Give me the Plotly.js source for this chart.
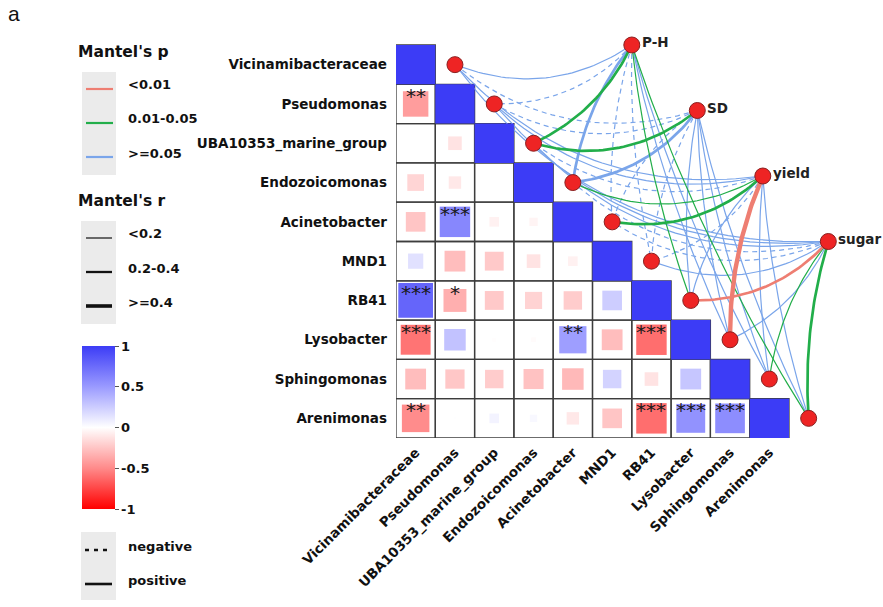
<!DOCTYPE html>
<html><head><meta charset="utf-8">
<script src="https://cdn.plot.ly/plotly-3.0.1.min.js"></script>
<style>body{margin:0;background:#fff}</style>
</head><body><div id="chart" style="width:883px;height:607px"></div>
<script>
// ---------------- DATA ----------------
const species = ['Vicinamibacteraceae','Pseudomonas','UBA10353_marine_group','Endozoicomonas','Acinetobacter','MND1','RB41','Lysobacter','Sphingomonas','Arenimonas'];
// lower-triangle Pearson r, row i holds columns 0..i-1
const corrRows = [
  [],
  [-0.42],
  [0.002, -0.12],
  [-0.18, -0.10, 0.002],
  [-0.25, 0.60, -0.06, -0.045],
  [0.15, -0.28, -0.23, -0.12, -0.06],
  [0.78, -0.34, -0.23, -0.19, -0.22, 0.25],
  [-0.58, 0.30, -0.01, -0.015, 0.48, -0.28, -0.60],
  [-0.28, -0.24, -0.22, -0.26, -0.30, 0.22, -0.12, 0.28],
  [-0.49, 0.003, 0.06, 0.035, -0.10, -0.25, -0.60, 0.54, 0.57]
];
const sigRows = [
  [],
  ['**'],
  ['', ''],
  ['', '', ''],
  ['', '***', '', ''],
  ['', '', '', '', ''],
  ['***', '*', '', '', '', ''],
  ['***', '', '', '', '**', '', '***'],
  ['', '', '', '', '', '', '', ''],
  ['**', '', '', '', '', '', '***', '***', '***']
];
const envVars = ['P-H', 'SD', 'yield', 'sugar'];
const pLevels = ['<0.01', '0.01-0.05', '>=0.05'];
const rLevels = ['<0.2', '0.2-0.4', '>=0.4'];
// Mantel p class per env variable, in species order
const mantelP_PH    = ['>=0.05','>=0.05','0.01-0.05','>=0.05','>=0.05','>=0.05','0.01-0.05','>=0.05','>=0.05','0.01-0.05'];
const mantelP_SD    = ['>=0.05','>=0.05','0.01-0.05','>=0.05','>=0.05','>=0.05','>=0.05','>=0.05','>=0.05','>=0.05'];
const mantelP_yield = ['>=0.05','>=0.05','>=0.05','0.01-0.05','0.01-0.05','>=0.05','>=0.05','<0.01','>=0.05','>=0.05'];
const mantelP_sugar = ['>=0.05','>=0.05','>=0.05','>=0.05','>=0.05','>=0.05','<0.01','>=0.05','0.01-0.05','0.01-0.05'];
// Mantel r class
const mantelR_PH    = ['<0.2','<0.2','0.2-0.4','0.2-0.4','<0.2','<0.2','<0.2','<0.2','<0.2','<0.2'];
const mantelR_SD    = ['<0.2','<0.2','0.2-0.4','0.2-0.4','<0.2','<0.2','<0.2','<0.2','<0.2','<0.2'];
const mantelR_yield = ['<0.2','<0.2','<0.2','<0.2','0.2-0.4','<0.2','<0.2','>=0.4','<0.2','<0.2'];
const mantelR_sugar = ['<0.2','<0.2','<0.2','<0.2','<0.2','<0.2','0.2-0.4','<0.2','<0.2','0.2-0.4'];
// sign of relation
const sign_PH    = ['positive','negative','positive','positive','negative','negative','positive','positive','positive','positive'];
const sign_SD    = ['negative','negative','positive','positive','negative','negative','positive','positive','positive','positive'];
const sign_yield = ['positive','positive','negative','positive','positive','negative','positive','positive','positive','positive'];
const sign_sugar = ['positive','positive','positive','negative','negative','positive','positive','positive','positive','positive'];
const colorTicks = [-1, -0.5, 0, 0.5, 1];
const colorTickText = ['-1', '-0.5', '0', '0.5', '1'];

// ---------------- STYLE / LAYOUT ----------------
const CELL = 39.3;
const ML = 396, MT = 25, PW = 483, PH = 413;
const px2x = p => (p - ML) / PW;
const py2y = p => 1 - (p - MT) / PH;
const FONT = 'DejaVu Sans';
const pColor = {'<0.01': '#EE7E72', '0.01-0.05': '#22AE4A', '>=0.05': '#7AA5EA'};
const rWidth = {'<0.2': 1.2, '0.2-0.4': 2.7, '>=0.4': 4.4};
const colorscale = [[0, '#ff0000'], [0.25, '#ff8a8a'], [0.5, '#ffffff'], [0.75, '#9a9aff'], [1, '#3c3cf6']];

const envP = [mantelP_PH, mantelP_SD, mantelP_yield, mantelP_sugar];
const envR = [mantelR_PH, mantelR_SD, mantelR_yield, mantelR_sugar];
const envS = [sign_PH, sign_SD, sign_yield, sign_sugar];

const n = species.length;
const idx = species.map((_, i) => i);

// matrix squares
const sqX = [], sqY = [], sqC = [], sqS = [];
for (let i = 0; i < n; i++) {
  for (let j = 0; j < i; j++) {
    const r = corrRows[i][j];
    sqX.push(j); sqY.push(i); sqC.push(r); sqS.push(Math.sqrt(Math.abs(r)) * CELL);
  }
  sqX.push(i); sqY.push(i); sqC.push(1); sqS.push(CELL);
}

const traces = [];
// node positions
const spX = idx.map(i => i + 1), spY = idx.map(i => i);
const envX = envVars.map((_, k) => spX[0] + 4.5 + k * 5 / 3);
const envY = envVars.map((_, k) => spY[0] - 0.5 + k * 5 / 3);

function curve(ex, ey, sx, sy) {
  const dx = sx - ex, dy = sy - ey;
  const L = Math.hypot(dx, dy);
  const u = (dx + dy) / Math.SQRT2 * CELL;
  let px = dy / L, py = -dx / L;
  if (u > 1e-6) { px = -px; py = -py; }
  const s = Math.min(0.13, Math.max(0.03, 0.09 - 0.0004 * u));
  const cx = (ex + sx) / 2 + 2 * s * L * px, cy = (ey + sy) / 2 + 2 * s * L * py;
  const xs = [], ys = [];
  for (let t = 0; t <= 1.0001; t += 1 / 40) {
    const a = (1 - t) * (1 - t), b = 2 * t * (1 - t), c = t * t;
    xs.push(a * ex + b * cx + c * sx); ys.push(a * ey + b * cy + c * sy);
  }
  return [xs, ys];
}
// edges: draw blue first, then green, then red on top
const order = ['>=0.05', '0.01-0.05', '<0.01'];
order.forEach(pl => {
  envVars.forEach((ev, k) => {
    idx.forEach(i => {
      if (envP[k][i] !== pl) return;
      const [xs, ys] = curve(envX[k], envY[k], spX[i], spY[i]);
      traces.push({
        type: 'scatter', mode: 'lines', x: xs, y: ys, hoverinfo: 'skip', showlegend: false, cliponaxis: false,
        line: {color: pColor[pl], width: rWidth[envR[k][i]], dash: envS[k][i] === 'negative' ? '5px,4px' : 'solid'}
      });
    });
  });
});

traces.push({
  type: 'scatter', mode: 'markers', x: sqX, y: sqY, hoverinfo: 'skip', showlegend: false,
  marker: {
    symbol: 'square', size: sqS, opacity: 1, color: sqC, cmin: -1, cmax: 1, colorscale: colorscale, line: {width: 0},
    colorbar: {
      x: px2x(82), xanchor: 'left', xref: 'paper', y: py2y(427.5), yanchor: 'middle', yref: 'paper',
      len: 163, lenmode: 'pixels', thickness: 33, thicknessmode: 'pixels', xpad: 0, ypad: 0,
      outlinewidth: 0, ticks: 'outside', ticklen: 4, tickwidth: 1, tickcolor: '#555',
      tickvals: colorTicks, ticktext: colorTickText,
      tickfont: {family: FONT, size: 13, weight: 'bold', color: '#111'}
    }
  }
});
traces.push({
  type: 'scatter', mode: 'markers', x: spX.concat(envX), y: spY.concat(envY), hoverinfo: 'skip', showlegend: false, cliponaxis: false,
  marker: {symbol: 'circle', size: 16, opacity: 1, color: '#EE2424', line: {color: '#8a2020', width: 1}}
});

const shapes = [];
for (let i = 0; i < n; i++) for (let j = 0; j <= i; j++) {
  shapes.push({type: 'rect', xref: 'x', yref: 'y', x0: j - 0.5, x1: j + 0.5, y0: i - 0.5, y1: i + 0.5,
    line: {color: '#3d3d3d', width: 1.3}, layer: 'below'});
}
function pbox(x0, y0, x1, y1) {
  shapes.push({type: 'rect', xref: 'paper', yref: 'paper', x0: px2x(x0), x1: px2x(x1), y0: py2y(y1), y1: py2y(y0),
    fillcolor: '#ebebeb', line: {width: 0}, layer: 'below'});
}
function pline(x0, x1, y, color, w, dash) {
  shapes.push({type: 'line', xref: 'paper', yref: 'paper', x0: px2x(x0), x1: px2x(x1), y0: py2y(y), y1: py2y(y),
    line: {color: color, width: w, dash: dash || 'solid'}});
}
const annotations = [];
function ptext(x, y, text, size, weight, family) {
  annotations.push({xref: 'paper', yref: 'paper', x: px2x(x), y: py2y(y), text: text, showarrow: false,
    xanchor: 'left', yanchor: 'middle', font: {family: family || FONT, size: size, weight: weight || 'bold', color: '#111'}});
}
ptext(6, 14, 'a', 21, 'normal', 'Liberation Sans');
ptext(76, 52, "Mantel's p", 15.5);
pbox(82, 72, 116, 175);
pLevels.forEach((pl, k) => { pline(86, 113, 89 + k * 34, pColor[pl], 2.2); ptext(126, 85 + k * 34, pl, 13); });
ptext(76, 201, "Mantel's r", 15.5);
pbox(81, 221, 116, 324);
rLevels.forEach((rl, k) => { pline(86, 112, 238 + k * 34, '#111', [1.2, 2.3, 3.6][k]); ptext(126, 234 + k * 34, rl, 13); });
pbox(81, 532, 116, 600);
pline(85, 112, 550, '#111', 2.6, '4px,5px');
pline(85, 112, 584, '#111', 2.6);
ptext(126, 546, 'negative', 13);
ptext(126, 580, 'positive', 13);

for (let i = 0; i < n; i++) for (let j = 0; j < i; j++) {
  if (sigRows[i][j]) annotations.push({xref: 'x', yref: 'y', x: j, y: i - 0.2, text: sigRows[i][j], showarrow: false,
    font: {family: FONT, size: 20, color: '#1a1a1a'}});
}
envVars.forEach((ev, k) => annotations.push({xref: 'x', yref: 'y', x: envX[k], y: envY[k], text: ev, showarrow: false,
  xanchor: 'left', yanchor: 'middle', xshift: 8, yshift: 3, font: {family: FONT, size: 13.5, weight: 'bold', color: '#222'}}));

const layout = {
  width: 883, height: 607, paper_bgcolor: '#fff', plot_bgcolor: 'rgba(0,0,0,0)',
  margin: {l: ML, r: 883 - ML - PW, t: MT, b: 607 - MT - PH, autoexpand: false},
  xaxis: {range: [-0.5, -0.5 + PW / CELL], showgrid: false, zeroline: false, showline: false, ticks: '',
    tickvals: idx, ticktext: species, tickangle: -45, ticklabelstandoff: 3,
    tickfont: {family: FONT, size: 13.5, weight: 'bold', color: '#111'}, automargin: false, fixedrange: true},
  yaxis: {range: [9.5, 9.5 - PH / CELL], showgrid: false, zeroline: false, showline: false, ticks: '',
    tickvals: idx, ticktext: species, ticklabelstandoff: 8,
    tickfont: {family: FONT, size: 13.5, weight: 'bold', color: '#111'}, automargin: false, fixedrange: true},
  shapes: shapes, annotations: annotations, showlegend: false
};
Plotly.newPlot('chart', traces, layout, {displayModeBar: false, staticPlot: true});
</script></body></html>
